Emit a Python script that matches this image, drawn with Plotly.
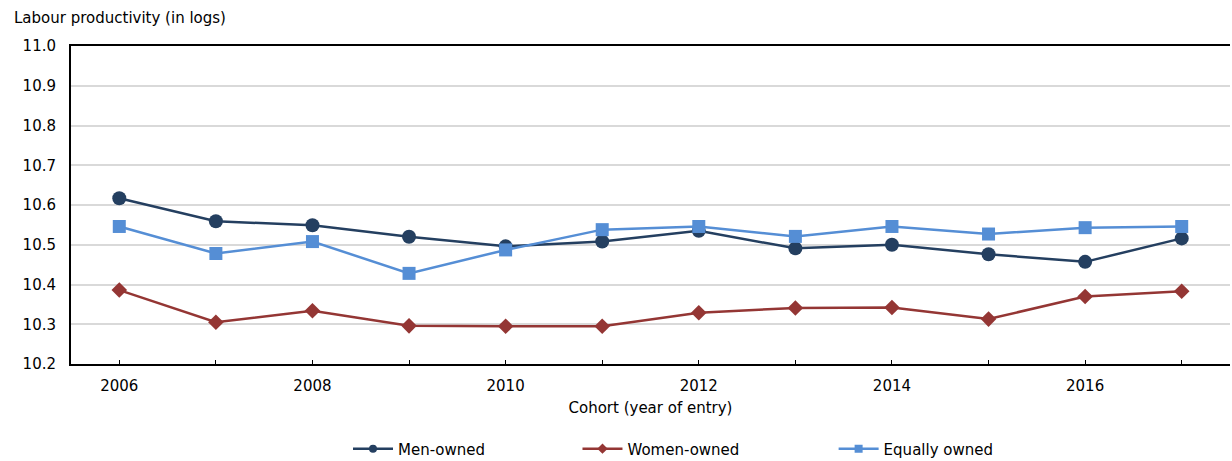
import plotly.graph_objects as go

years = list(range(2006, 2018))
men_owned = [10.617, 10.559, 10.549, 10.520, 10.496, 10.508, 10.535, 10.491, 10.500, 10.476, 10.457, 10.516]
women_owned = [10.386, 10.305, 10.334, 10.296, 10.295, 10.295, 10.329, 10.341, 10.342, 10.313, 10.370, 10.383]
equally_owned = [10.546, 10.478, 10.508, 10.428, 10.487, 10.538, 10.546, 10.521, 10.546, 10.527, 10.543, 10.546]

y_ticks = [10.2, 10.3, 10.4, 10.5, 10.6, 10.7, 10.8, 10.9, 11.0]
x_labels = [str(y) if y % 2 == 0 else "" for y in years]

FONT = "DejaVu Sans, Verdana, sans-serif"
FS = 15

# name, values, colour, symbol, marker size, legend id, legend x (paper)
series = [
    ("Men-owned", men_owned, "#243F60", "circle", 14, "legend", 0.239),
    ("Women-owned", women_owned, "#943634", "diamond", 12, "legend2", 0.437),
    ("Equally owned", equally_owned, "#558ED5", "square", 13, "legend3", 0.658),
]

fig = go.Figure()
for name, vals, color, symbol, size, leg, _ in series:
    fig.add_trace(go.Scatter(
        x=years, y=vals, name=name, mode="lines+markers",
        line=dict(color=color, width=2.5),
        marker=dict(symbol=symbol, size=size, color=color),
        showlegend=False,
    ))
    # compact legend entry (smaller marker)
    fig.add_trace(go.Scatter(
        x=[None], y=[None], name=name, mode="lines+markers",
        line=dict(color=color, width=2.5),
        marker=dict(symbol=symbol, size=8, color=color),
        legend=leg, showlegend=True, hoverinfo="skip",
    ))

legend_common = dict(orientation="h", y=-0.267, yanchor="middle", xanchor="left",
                     font=dict(size=FS), itemwidth=40, bgcolor="rgba(0,0,0,0)")

fig.update_layout(
    width=1232, height=461,
    margin=dict(l=71, r=2, t=46, b=97, autoexpand=False),
    paper_bgcolor="white", plot_bgcolor="white",
    font=dict(family=FONT, size=FS, color="#000000"),
    showlegend=True,
    legend=dict(x=series[0][6], **legend_common),
    legend2=dict(x=series[1][6], **legend_common),
    legend3=dict(x=series[2][6], **legend_common),
    xaxis=dict(
        range=[2005.5, 2017.5], tickvals=years, ticktext=x_labels,
        ticks="inside", ticklen=4, tickcolor="#000000",
        showline=True, linecolor="#000000", linewidth=2, mirror=True,
        showgrid=False, zeroline=False, ticklabelstandoff=7,
        title=dict(text="Cohort (year of entry)", standoff=8, font=dict(size=FS)),
    ),
    yaxis=dict(
        range=[10.2, 11.0], tickvals=y_ticks, ticktext=[f"{v:.1f}" for v in y_ticks],
        showline=True, linecolor="#000000", linewidth=2,
        showgrid=True, gridcolor="#D9D9D9", gridwidth=1.5, zeroline=False,
        ticks="", ticklabelstandoff=10,
    ),
    annotations=[dict(
        text="Labour productivity (in logs)", xref="paper", yref="paper",
        x=-0.051, y=1.0, yshift=28, xanchor="left", yanchor="middle",
        showarrow=False, font=dict(size=FS),
    )],
)

fig.write_html("out.html")
